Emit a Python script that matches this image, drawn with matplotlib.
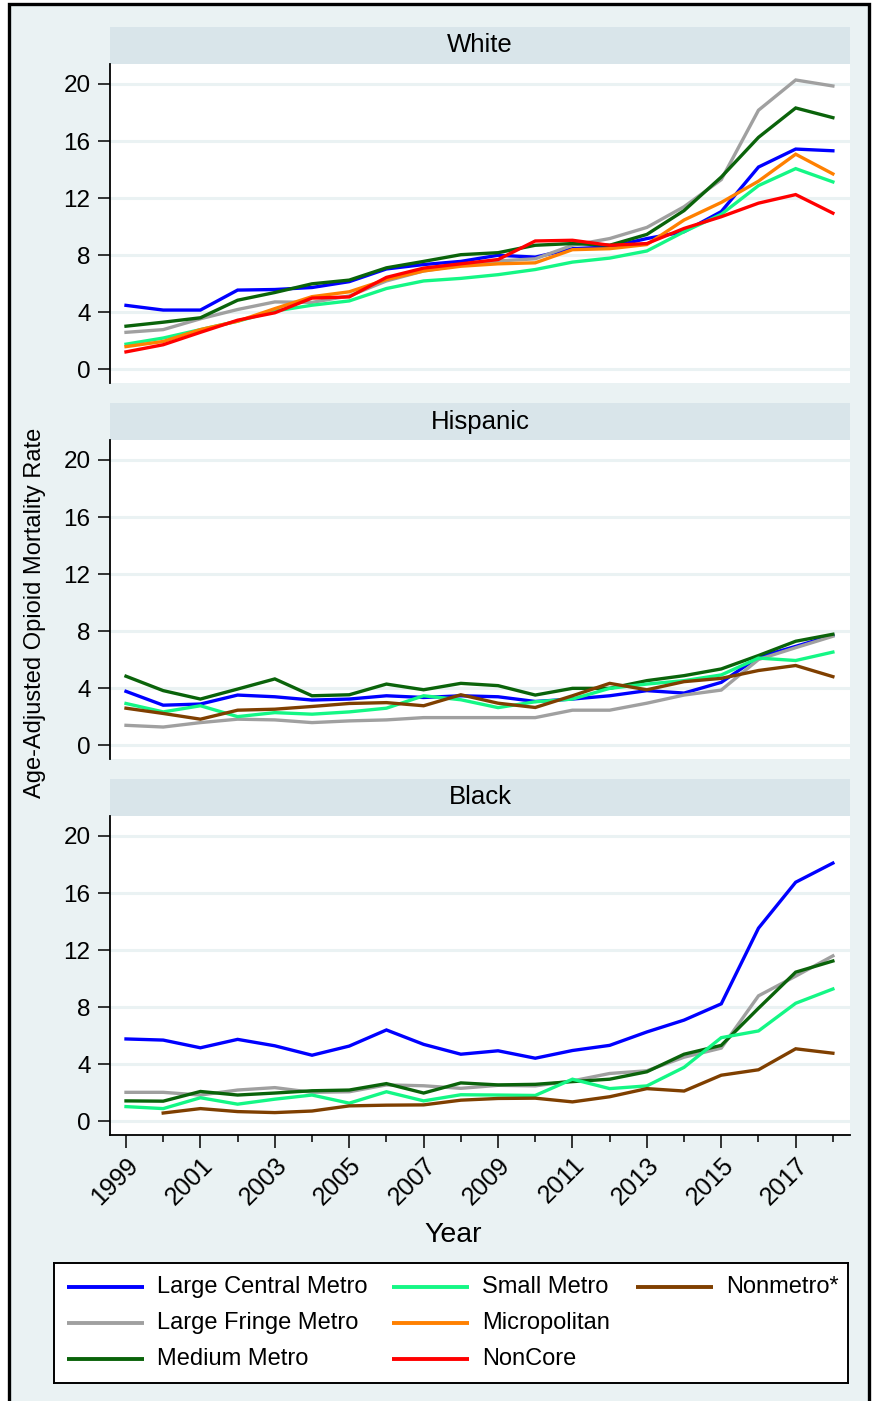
import numpy as np
import matplotlib
matplotlib.use("Agg")
import matplotlib.pyplot as plt
from matplotlib.patches import Rectangle

plt.rcParams["font.family"] = ["Liberation Sans", "DejaVu Sans"]

years = list(range(1999, 2019))
nan = np.nan

categories = ["Large Central Metro", "Large Fringe Metro", "Medium Metro",
              "Small Metro", "Micropolitan", "NonCore", "Nonmetro*"]
colors = ["#0000FF", "#A0A0A0", "#0A630A", "#14F785", "#FF8000", "#FF0000", "#7F3F00"]

# White
white_large_central = [4.49, 4.16, 4.16, 5.56, 5.60, 5.74, 6.15, 7.04, 7.35, 7.57,
                       8.00, 7.87, 8.46, 8.58, 9.17, 9.65, 11.06, 14.18, 15.44, 15.32]
white_large_fringe = [2.60, 2.79, 3.55, 4.20, 4.73, 4.70, 5.15, 6.20, 6.90, 7.30,
                      7.60, 7.75, 8.70, 9.17, 9.95, 11.40, 13.30, 18.16, 20.28, 19.86]
white_medium = [3.03, 3.31, 3.62, 4.85, 5.39, 6.00, 6.26, 7.12, 7.57, 8.04,
                8.18, 8.70, 8.82, 8.70, 9.46, 11.13, 13.48, 16.26, 18.32, 17.64]
white_small = [1.77, 2.20, 2.79, 3.38, 4.09, 4.50, 4.80, 5.67, 6.20, 6.38,
               6.64, 7.00, 7.52, 7.80, 8.30, 9.65, 10.87, 12.88, 14.07, 13.14]
white_micro = [1.60, 1.96, 2.79, 3.38, 4.26, 5.10, 5.44, 6.30, 6.90, 7.23,
               7.40, 7.47, 8.39, 8.46, 8.75, 10.47, 11.70, 13.19, 15.08, 13.70]
white_noncore = [1.23, 1.73, 2.60, 3.45, 3.97, 5.00, 5.08, 6.45, 7.10, 7.40,
                 7.70, 9.00, 9.05, 8.70, 8.82, 9.88, 10.70, 11.65, 12.25, 10.95]

# Hispanic
hisp_large_central = [3.79, 2.82, 2.90, 3.53, 3.41, 3.18, 3.25, 3.48, 3.36, 3.48,
                      3.41, 3.08, 3.25, 3.48, 3.84, 3.67, 4.42, 6.19, 6.94, 7.72]
hisp_large_fringe = [1.41, 1.29, 1.60, 1.84, 1.79, 1.60, 1.72, 1.79, 1.95, 1.95,
                     1.95, 1.95, 2.47, 2.47, 2.96, 3.53, 3.88, 6.02, 6.85, 7.65]
hisp_medium = [4.85, 3.84, 3.25, 3.95, 4.66, 3.48, 3.55, 4.30, 3.90, 4.35,
               4.19, 3.53, 4.00, 4.00, 4.54, 4.89, 5.36, 6.30, 7.30, 7.79]
hisp_small = [2.94, 2.35, 2.78, 2.02, 2.30, 2.19, 2.35, 2.61, 3.48, 3.20,
              2.65, 3.06, 3.25, 4.00, 4.30, 4.54, 4.94, 6.12, 5.95, 6.54]
hisp_nonmetro = [2.61, 2.24, 1.84, 2.47, 2.54, 2.73, 2.94, 3.00, 2.78, 3.55,
                 2.96, 2.66, 3.48, 4.35, 3.90, 4.47, 4.70, 5.25, 5.60, 4.82]

# Black
black_large_central = [5.78, 5.70, 5.16, 5.75, 5.30, 4.64, 5.28, 6.41, 5.40, 4.71,
                       4.95, 4.43, 4.97, 5.33, 6.27, 7.10, 8.24, 13.54, 16.76, 18.10]
black_large_fringe = [2.04, 2.04, 1.85, 2.20, 2.37, 2.04, 2.08, 2.56, 2.50, 2.32,
                      2.53, 2.49, 2.84, 3.36, 3.55, 4.50, 5.14, 8.80, 10.18, 11.60]
black_medium = [1.44, 1.42, 2.10, 1.85, 1.99, 2.15, 2.20, 2.65, 1.99, 2.70,
                2.56, 2.60, 2.79, 2.96, 3.48, 4.71, 5.33, 7.93, 10.46, 11.24]
black_small = [1.04, 0.90, 1.66, 1.21, 1.56, 1.85, 1.28, 2.08, 1.44, 1.87,
               1.85, 1.82, 2.96, 2.30, 2.49, 3.79, 5.87, 6.34, 8.28, 9.28]
black_nonmetro = [nan, 0.59, 0.90, 0.69, 0.62, 0.73, 1.09, 1.14, 1.16, 1.49,
                  1.61, 1.63, 1.37, 1.73, 2.30, 2.13, 3.24, 3.62, 5.09, 4.78]

panels = [
    ("White", {0: white_large_central, 1: white_large_fringe, 2: white_medium,
               3: white_small, 4: white_micro, 5: white_noncore}),
    ("Hispanic", {0: hisp_large_central, 1: hisp_large_fringe, 2: hisp_medium,
                  3: hisp_small, 6: hisp_nonmetro}),
    ("Black", {0: black_large_central, 1: black_large_fringe, 2: black_medium,
               3: black_small, 6: black_nonmetro}),
]

W, H = 872, 1401
BG = "#EAF2F3"
STRIP = "#D9E5EA"
GRID = "#EAF2F3"


def rect(x0, y0, x1, y1):
    # pixel box (top-left origin) -> figure fraction
    return [x0 / W, 1 - y1 / H, (x1 - x0) / W, (y1 - y0) / H]


fig = plt.figure(figsize=(W / 100, H / 100), dpi=100, facecolor="white")
fig.patches.append(Rectangle((9 / W, -0.01), 860 / W, 1.01 - 4 / H,
                             transform=fig.transFigure, facecolor=BG,
                             edgecolor="black", linewidth=2.4, zorder=-10))

strip_tops = [27, 403, 779]
for i, (title, series) in enumerate(panels):
    top = strip_tops[i]
    sax = fig.add_axes(rect(110, top, 850, top + 37))
    sax.set_facecolor(STRIP)
    sax.set_xticks([])
    sax.set_yticks([])
    for s in sax.spines.values():
        s.set_visible(False)
    sax.text(0.5, 0.5, title, ha="center", va="center", fontsize=18.5,
             transform=sax.transAxes)

    ax = fig.add_axes(rect(110, top + 37, 850, top + 356))
    ax.set_facecolor("white")
    for k, vals in series.items():
        ax.plot(years, vals, color=colors[k], lw=2.4, solid_joinstyle="miter",
                zorder=3)
    ax.set_xlim(1998.57, 2018.46)
    ax.set_ylim(-0.95, 21.4)
    ax.set_yticks([0, 4, 8, 12, 16, 20])
    ax.grid(axis="y", color=GRID, lw=2.2, zorder=0)
    ax.tick_params(axis="y", labelsize=17.5, length=9, width=1.1, pad=5)
    for side in ["top", "right"]:
        ax.spines[side].set_visible(False)
    ax.spines["left"].set_linewidth(1.3)
    if i < 2:
        ax.spines["bottom"].set_visible(False)
        ax.set_xticks([])
    else:
        ax.spines["bottom"].set_linewidth(1.3)
        ax.set_xticks(years[::2])
        ax.set_xticks(years[1::2], minor=True)
        ax.set_xticklabels([str(y) for y in years[::2]], rotation=45,
                           ha="right", va="top", rotation_mode="anchor")
        ax.tick_params(axis="x", which="major", labelsize=18, length=9,
                       width=1.1, pad=4)
        ax.tick_params(axis="x", which="minor", length=5, width=1.1)

fig.text(35 / W, 1 - 613 / H, "Age-Adjusted Opioid Mortality Rate",
         rotation=90, ha="center", va="center", fontsize=17)
fig.text(453 / W, 1 - 1235 / H, "Year", ha="center", va="center", fontsize=20.5)

# legend box
lax = fig.add_axes(rect(54, 1263, 848, 1383))
lax.set_xlim(54, 848)
lax.set_ylim(1383, 1263)
lax.set_xticks([])
lax.set_yticks([])
lax.set_facecolor("white")
for s in lax.spines.values():
    s.set_linewidth(1.4)
col_x = [67, 392, 636]
row_y = [1287, 1323, 1359]
for k, name in enumerate(categories):
    c, r = divmod(k, 3)
    lax.plot([col_x[c], col_x[c] + 77], [row_y[r], row_y[r]], color=colors[k],
             lw=2.8, solid_capstyle="butt")
    lax.text(col_x[c] + 90, row_y[r], name, ha="left", va="center",
             fontsize=17)

fig.savefig("out.png", dpi=100, facecolor="white")
